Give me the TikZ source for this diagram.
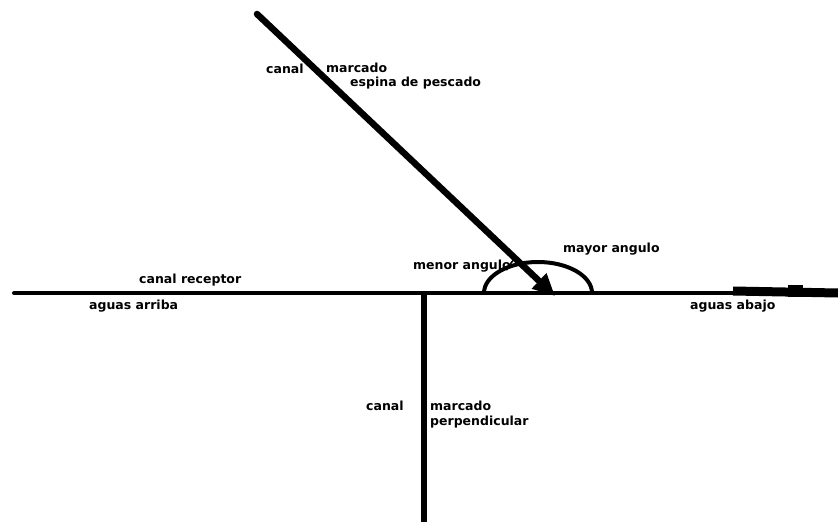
\documentclass[tikz,border=0pt]{standalone}
\usepackage{fontspec}
\setmainfont{DejaVu Sans}
\usetikzlibrary{arrows.meta}

\begin{document}
\begin{tikzpicture}[
  x=1pt, y=-1pt,
  lbl/.style={anchor=west, inner sep=0pt, font=\fontsize{12.5}{14}\selectfont\bfseries},
  canal/.style={line width=#1, line cap=round},
  canal/.default=4pt
]
  \useasboundingbox (0,0) rectangle (838,522);

  % Labels
  \node[lbl] (lcanal1)  at (266,69)  {canal};
  \node[lbl] (lmarc1)   at (326,68)  {marcado};
  \node[lbl] (lespina)  at (350,83)  {espina de pescado};
  \node[lbl] (lmenor)   at (413,266) {menor angulo};
  \node[lbl] (lmayor)   at (563,249) {mayor angulo};
  \node[lbl] (lrecep)   at (139,280) {canal receptor};
  \node[lbl] (larriba)  at (89,306)  {aguas arriba};
  \node[lbl] (labajo)   at (690,306) {aguas abajo};
  \node[lbl] (lcanal2)  at (366,406) {canal};
  \node[lbl] (lmarc2)   at (430,406) {marcado};
  \node[lbl] (lperp)    at (430,422) {perpendicular};

  % Points of the channels
  \coordinate (up)      at (14,293);
  \coordinate (down)    at (838,293);
  \coordinate (junc)    at (424,293);
  \coordinate (bottom)  at (424,522);
  \coordinate (fishtop) at (257,14);
  \coordinate (fishend) at (555,296);
  \coordinate (thickA)  at (733,291);
  \coordinate (bulgeA)  at (788,291);
  \coordinate (bulgeB)  at (803,291);

  % Receiving channel
  \draw[canal=4pt] (up) -- (down);
  \draw[line width=9pt] (thickA) -- (down);
  \draw[line width=12pt] (bulgeA) -- (bulgeB);

  % Perpendicular channel
  \draw[line width=6pt] (junc) -- (bottom);

  % Fishbone channel
  \draw[canal=6.5pt, -{Triangle[length=22pt, width=20pt]}] (fishtop) -- (fishend);

  % Angles
  \draw[line width=4pt] (484,293) arc[start angle=180, end angle=360, x radius=54, y radius=31];
  \draw[line width=1.5pt] (fishend) ++(-152:55) arc[start angle=-152, end angle=-137, radius=55];
\end{tikzpicture}
\end{document}
